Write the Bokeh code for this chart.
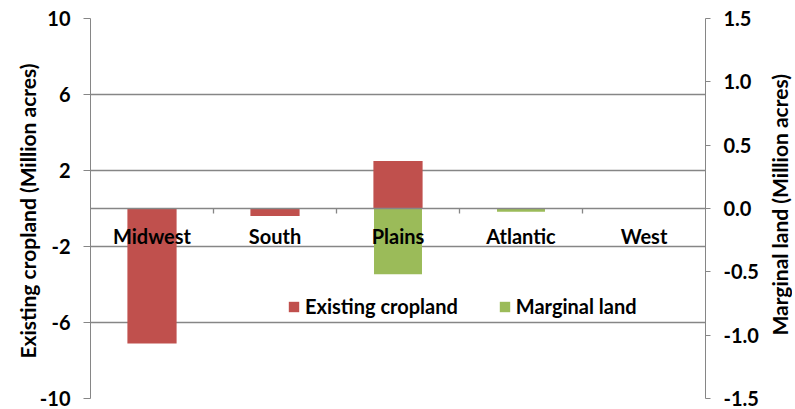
import numpy as np
from bokeh.plotting import figure
from bokeh.layouts import row
from bokeh.models import (Range1d, LinearAxis, FixedTicker, Span, Legend,
                          LegendItem, NumeralTickFormatter, Div)
from bokeh.core.properties import value
from bokeh.embed import file_html
from bokeh.resources import INLINE

# Change in land use by region
regions = ["Midwest", "South", "Plains", "Atlantic", "West"]
existing_cropland = [-7.1, -0.4, 2.5, 0.0, 0.0]      # million acres (left axis)
marginal_land = [0.0, 0.0, -0.52, -0.025, 0.0]       # million acres (right axis)

left_ticks = [-10, -6, -2, 2, 6, 10]
right_ticks = [-1.5, -1.0, -0.5, 0.0, 0.5, 1.0, 1.5]

left_title = "Existing cropland  (Million acres)"
right_title = "Marginal land (Million acres)"

RED = "#C0504D"
GREEN = "#9BBB59"
GRAY = "#868686"
FONT = "Lato"

xs = np.arange(len(regions)) + 0.5

p = figure(width=765, height=409, output_backend="svg", toolbar_location=None,
           x_range=Range1d(0, len(regions)), y_range=Range1d(-10, 10),
           min_border_left=90, min_border_right=60, min_border_top=18,
           min_border_bottom=11)
p.outline_line_color = None
p.background_fill_color = "white"
p.xaxis.visible = False
p.xgrid.visible = False

# gridlines on the left-axis ticks
p.ygrid.ticker = FixedTicker(ticks=left_ticks)
p.ygrid.grid_line_color = GRAY
p.ygrid.grid_line_width = 1.3


def style_axis(ax, tick_out):
    ax.axis_line_color = GRAY
    ax.major_tick_line_color = GRAY
    ax.major_tick_out = tick_out
    ax.major_tick_in = 0
    ax.minor_tick_line_color = None
    ax.major_label_standoff = 13
    ax.major_label_text_font = FONT
    ax.major_label_text_font_style = "bold"
    ax.major_label_text_font_size = "20px"
    ax.major_label_text_color = "black"
    ax.axis_label_text_font = FONT
    ax.axis_label_text_font_style = "bold"
    ax.axis_label_text_font_size = "21px"
    ax.axis_label_text_color = "black"


# left axis
ya = p.yaxis[0]
ya.ticker = FixedTicker(ticks=left_ticks)
ya.formatter = NumeralTickFormatter(format="0")
ya.axis_label = left_title
style_axis(ya, 7)
ya.axis_label_standoff = -3

# right axis on its own range
p.extra_y_ranges = {"marg": Range1d(-1.5, 1.5)}
ra = LinearAxis(y_range_name="marg", ticker=FixedTicker(ticks=right_ticks),
                formatter=NumeralTickFormatter(format="0.0"))
style_axis(ra, 5)
p.add_layout(ra, "right")

# bars
r_crop = p.vbar(x=xs, top=existing_cropland, width=0.4, fill_color=RED,
                line_color=None)
r_marg = p.vbar(x=xs, top=marginal_land, width=0.39, fill_color=GREEN,
                line_color=None, y_range_name="marg")

# zero line with category separator ticks
p.add_layout(Span(location=0, dimension="width", line_color=GRAY,
                  line_width=1.5))
bounds = np.arange(1, len(regions))
tick_len = 5 * 20 / 380
p.segment(x0=bounds, y0=np.zeros(len(bounds)), x1=bounds,
          y1=-tick_len * np.ones(len(bounds)), line_color=GRAY, line_width=1.3)

# category labels just under the zero line
p.text(x=xs, y=np.zeros(len(regions)), text=regions, y_offset=27,
       text_align="center", text_baseline="middle",
       text_font=value(FONT), text_font_style="bold", text_font_size="20px",
       text_color="black")

legend = Legend(items=[LegendItem(label="Existing cropland", renderers=[r_crop]),
                       LegendItem(label="Marginal land", renderers=[r_marg])],
                orientation="horizontal", location=(197, 80),
                glyph_width=13, glyph_height=13, label_standoff=5,
                spacing=40, padding=0, margin=0,
                label_text_font=FONT, label_text_font_style="bold",
                label_text_font_size="20px", label_height=20,
                label_text_color="black",
                background_fill_alpha=0, border_line_alpha=0)
p.add_layout(legend)

# right-hand axis title, reading bottom to top
right_label = Div(
    text=('<div style="height:409px;width:30px;display:flex;'
          'align-items:center;justify-content:center;">'
          '<span style="writing-mode:vertical-rl;transform:rotate(180deg);'
          'font-family:Lato;font-weight:bold;font-size:21px;color:black;'
          'white-space:nowrap;">' + right_title + '</span></div>'),
    width=30, height=409, margin=0)

layout = row(p, right_label, spacing=0)

open("out.html", "w").write(file_html(layout, INLINE))
